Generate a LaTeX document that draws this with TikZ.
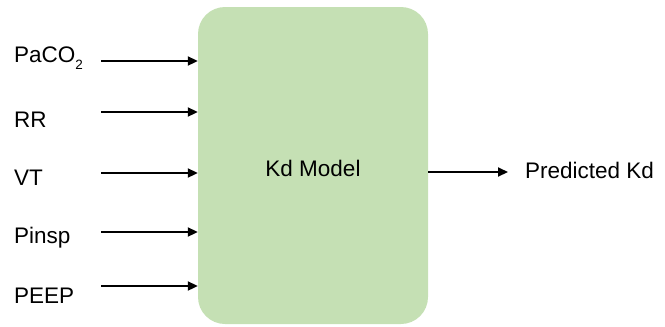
\documentclass[tikz,border=0pt]{standalone}
\usepackage{fontspec}
\setmainfont{Liberation Sans}
\usetikzlibrary{arrows.meta}

\definecolor{modelgreen}{HTML}{C5E0B4}

\tikzset{
  inlabel/.style={anchor=base west, inner sep=0pt, font=\fontsize{22.5bp}{27bp}\selectfont},
  inarrow/.style={line width=2bp, -{Triangle[length=10bp,width=9bp]}},
}

\begin{document}
\begin{tikzpicture}[x=1bp,y=-1bp]
\useasboundingbox (0,0) rectangle (665,326);

% model block
\node (M) [rounded corners=27bp, fill=modelgreen, minimum width=230bp, minimum height=317bp,
  inner sep=0pt] at (313,165.5) {};
\node (P0) [anchor=base, inner sep=0pt, font=\fontsize{22.5bp}{27bp}\selectfont] at (313,176) {Kd Model};

% inputs
\node (P1) [inlabel] at (14,62) {PaCO\raisebox{-7bp}{\fontsize{13.5bp}{16bp}\selectfont 2}};
\node (P2) [inlabel] at (14,127) {RR};
\node (P3) [inlabel] at (14,185) {VT};
\node (P4) [inlabel] at (14,243) {Pinsp};
\node (P5) [inlabel] at (14,303) {PEEP};

\coordinate (A1) at (101,61);
\coordinate (A2) at (101,112);
\coordinate (A3) at (101,173);
\coordinate (A4) at (101,232);
\coordinate (A5) at (101,286);

% output
\coordinate (B0) at (508,172);
\node (P6) [inlabel] at (525,178) {Predicted Kd};

\draw[inarrow] (A1) -- (A1 -| M.west);
\draw[inarrow] (A2) -- (A2 -| M.west);
\draw[inarrow] (A3) -- (A3 -| M.west);
\draw[inarrow] (A4) -- (A4 -| M.west);
\draw[inarrow] (A5) -- (A5 -| M.west);
\draw[inarrow] (B0 -| M.east) -- (B0);
\end{tikzpicture}
\end{document}
